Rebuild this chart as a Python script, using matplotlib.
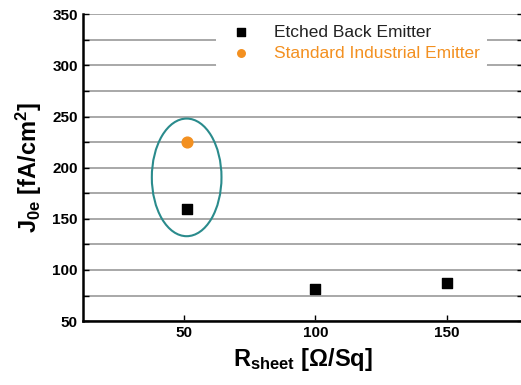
import matplotlib
matplotlib.use('Agg')
import matplotlib.pyplot as plt
from matplotlib.patches import Ellipse
from matplotlib.ticker import MultipleLocator

plt.rcParams['font.family'] = ['Liberation Sans', 'DejaVu Sans']
plt.rcParams['mathtext.fontset'] = 'custom'
plt.rcParams['mathtext.rm'] = 'Liberation Sans:bold'
plt.rcParams['mathtext.it'] = 'Liberation Sans:bold'
plt.rcParams['mathtext.bf'] = 'Liberation Sans:bold'

etched_r = [51, 100, 150]
etched_j = [160, 81, 87]
standard_r = [51]
standard_j = [225]

fig = plt.figure(figsize=(5.21, 3.85), dpi=100)
ax = fig.add_axes([0.159, 0.166, 0.845, 0.797])

ax.set_xlim(11.5, 179)
ax.set_ylim(50, 350)
ax.yaxis.set_major_locator(MultipleLocator(50))
ax.yaxis.set_minor_locator(MultipleLocator(25))
ax.set_xticks([50, 100, 150])
ax.grid(True, which='both', axis='y', color='#9a9a9a', linewidth=1.2)
ax.set_axisbelow(True)

ax.scatter(etched_r, etched_j, marker='s', s=55, color='black', zorder=3,
           label='Etched Back Emitter')
ax.scatter(standard_r, standard_j, marker='o', s=60, color='#f39020', zorder=3,
           label='Standard Industrial Emitter')

ell = Ellipse((51, 190.5), 26.5, 115, fill=False, edgecolor='#2a8b8c', linewidth=1.5, zorder=4)
ax.add_patch(ell)

for s in ['left', 'bottom']:
    ax.spines[s].set_linewidth(1.8)
ax.spines['top'].set_visible(False)
ax.spines['right'].set_visible(False)
ax.tick_params(axis='both', which='both', direction='in', labelsize=11, width=1, length=4)
ax.tick_params(axis='y', which='both', right=True)
for lbl in ax.get_xticklabels() + ax.get_yticklabels():
    lbl.set_fontweight('bold')

ax.set_xlabel(r'R$_{\mathrm{sheet}}$ [$\Omega$/Sq]', fontsize=17, fontweight='bold', labelpad=4)
ax.set_ylabel(r'J$_{\mathrm{0e}}$ [fA/cm$^{\mathrm{2}}$]', fontsize=17, fontweight='bold', labelpad=6)

leg = ax.legend(loc='upper right', bbox_to_anchor=(0.925, 1.0), frameon=True, fontsize=12.5,
                handletextpad=0.9, markerscale=0.7, borderaxespad=0.2, labelspacing=0.35)
leg.get_frame().set_edgecolor('none')
leg.get_frame().set_facecolor('white')
leg.get_frame().set_alpha(1)
leg.get_texts()[0].set_color('#222222')
leg.get_texts()[1].set_color('#f39020')

fig.savefig('out.png', dpi=100)
